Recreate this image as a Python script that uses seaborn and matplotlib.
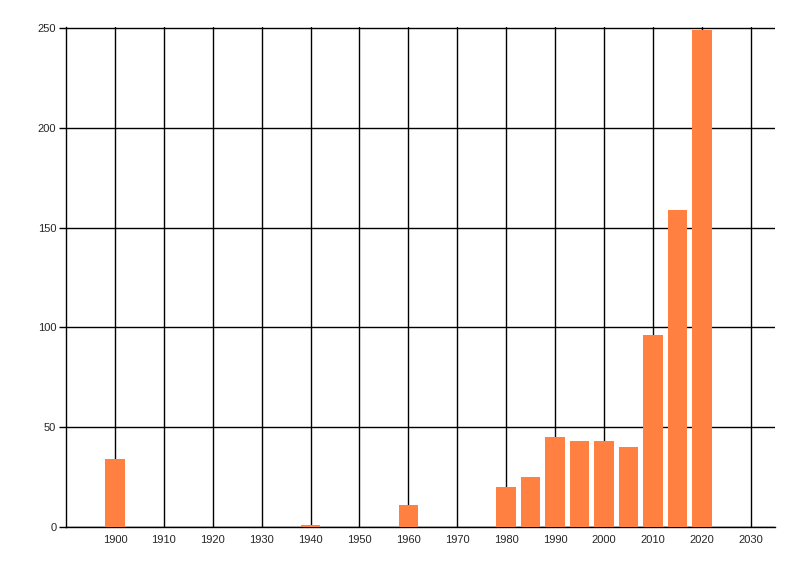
import pandas as pd
import seaborn as sns
from matplotlib import pyplot as plt

years = [1900, 1940, 1960, 1980, 1985, 1990, 1995, 2000, 2005, 2010, 2015, 2020]
counts = [34, 1, 11, 20, 25, 45, 43, 43, 40, 96, 159, 249]
xticks = list(range(1900, 2031, 10))
yticks = [0, 50, 100, 150, 200, 250]

df = pd.DataFrame({"year": years, "count": counts})

sns.set_style("white")
plt.rcParams['font.family'] = ['Liberation Sans', 'DejaVu Sans']

fig = plt.figure(figsize=(8, 5.76), dpi=100)
ax = fig.add_axes([0.0825, 0.085, 0.8865, 0.868])

sns.barplot(data=df, x="year", y="count", native_scale=True, width=0.8,
            color="#FF8040", saturation=1, edgecolor="none", ax=ax, zorder=3)

ax.set_xlim(1890, 2035)
ax.set_ylim(0, 250.5)
ax.set_xticks(xticks)
ax.set_yticks(yticks)
ax.set_xticklabels([str(t) for t in xticks], fontsize=8)
ax.set_yticklabels([str(t) for t in yticks], fontsize=8)
ax.grid(True, color="black", linewidth=1)
ax.set_axisbelow(True)
ax.tick_params(axis="x", length=0, pad=6)
ax.tick_params(axis="y", length=5, width=1, color="black", pad=2, left=True)
for s in ["top", "right"]:
    ax.spines[s].set_visible(False)
for s in ["left", "bottom"]:
    ax.spines[s].set_color("black")
    ax.spines[s].set_linewidth(1)
ax.set_xlabel("")
ax.set_ylabel("")

fig.savefig("out.png", dpi=100)
